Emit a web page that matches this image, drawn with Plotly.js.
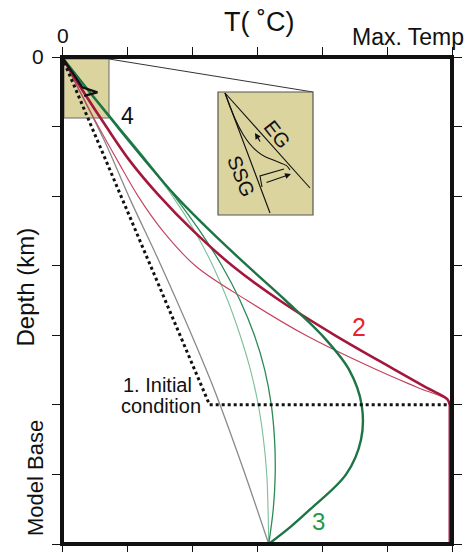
<!DOCTYPE html>
<html>
<head>
<meta charset="utf-8">
<script src="https://cdn.plot.ly/plotly-3.0.1.min.js"></script>
<style>html,body{margin:0;padding:0;background:#fff;}#chart{width:466px;height:552px;}</style>
</head>
<body>
<div id="chart"></div>
<script>
// ---- data: temperature (0..6 = Max. Temp) vs depth (0..7 = Model Base)
const tickT = [0, 1, 2, 3, 4, 5, 6];
const tickD = [0, 1, 2, 3, 4, 5, 6, 7];

const initT = [0, 2.27, 6];
const initD = [0, 5, 5];

const grayT = [0, 0.64, 1.05, 1.5, 1.95, 2.35, 2.78, 3.18];
const grayD = [0, 1.18, 2.05, 2.95, 3.9, 4.8, 5.9, 7];

const thinRedT = [0, 0.28, 0.56, 0.86, 1.17, 1.55, 2.05, 2.85, 3.75, 4.85, 5.47, 5.93, 5.965];
const thinRedD = [0, 0.5, 1.0, 1.5, 2.0, 2.5, 3.0, 3.5, 4.0, 4.5, 4.75, 4.93, 5.0];

const thickRedT = [0, 0.33, 0.68, 1.05, 1.5, 2.02, 2.62, 3.35, 4.2, 5.13, 5.6, 5.93, 5.965];
const thickRedD = [0, 0.5, 1.0, 1.5, 2.0, 2.5, 3.0, 3.5, 4.0, 4.5, 4.75, 4.92, 5.0];

const redBaseT = [5.965, 5.965];
const redBaseD = [5.0, 7.0];

const thickGreenT = [0, 0.42, 0.85, 1.29, 1.75, 2.28, 2.85, 3.44, 4.0, 4.42, 4.61, 4.6, 4.37, 3.82, 3.52, 3.18];
const thickGreenD = [0, 0.5, 1.0, 1.5, 2.0, 2.5, 3.0, 3.5, 4.0, 4.5, 5.0, 5.5, 6.0, 6.5, 6.75, 7.0];

const lightGreenT = [0, 0.43, 0.87, 1.3, 1.7, 2.04, 2.32, 2.55, 2.74, 2.9, 3.02, 3.1, 3.15, 3.17, 3.18];
const lightGreenD = [0, 0.5, 1.0, 1.5, 2.0, 2.5, 3.0, 3.5, 4.0, 4.5, 5.0, 5.5, 6.0, 6.5, 7.0];

const medGreenT = [0, 0.43, 0.87, 1.31, 1.73, 2.12, 2.46, 2.74, 2.96, 3.12, 3.22, 3.27, 3.28, 3.25, 3.18];
const medGreenD = [0, 0.5, 1.0, 1.5, 2.0, 2.5, 3.0, 3.5, 4.0, 4.5, 5.0, 5.5, 6.0, 6.5, 7.0];

const fourT = [0, 0.313, 0.545, 0.34];
const fourD = [0, 0.437, 0.509, 0.558];

// ---- layout geometry
const W = 466, H = 552;
const M = {l: 62, r: 14, t: 57, b: 8};
const PW = W - M.l - M.r, PH = H - M.t - M.b;
const pxT = PW / 6, pxD = PH / 7;
const X = px => (px - M.l) / pxT;      // pixel -> data (T)
const Y = py => (py - M.t) / pxD;      // pixel -> data (depth)
const PX = px => (px - M.l) / PW;      // pixel -> paper x
const PY = py => 1 - (py - M.t) / PH;  // pixel -> paper y

const FONT = 'Liberation Sans, Arial, Helvetica, sans-serif';
const TAN = '#dbd49f';

function tr(x, y, color, width, dash, shape) {
  return {x: x, y: y, type: 'scatter', mode: 'lines', hoverinfo: 'skip',
    line: {color: color, width: width, dash: dash || 'solid', shape: shape || 'spline', smoothing: 1}};
}

const traces = [
  tr(grayT, grayD, '#8a8a8a', 1.3),
  tr(lightGreenT, lightGreenD, '#7dbf98', 1.1),
  tr(medGreenT, medGreenD, '#2b8a55', 1.3),
  tr(thinRedT, thinRedD, '#c4405e', 1.1),
  tr(thickRedT, thickRedD, '#a4173c', 2.6),
  tr(redBaseT, redBaseD, '#a4173c', 2.4, 'solid', 'linear'),
  tr(thickGreenT, thickGreenD, '#1d7445', 2.4),
  tr(initT, initD, '#111111', 3, 'dot', 'linear'),
  tr(fourT, fourD, '#111111', 2.2, 'solid', 'linear')
];

function ann(text, px, py, size, color, angle) {
  return {text: text, x: PX(px), y: PY(py), xref: 'paper', yref: 'paper', showarrow: false,
    xanchor: 'center', yanchor: 'middle', textangle: angle || 0,
    font: {family: FONT, size: size, color: color || '#111'}};
}
function arrow(hx, hy, tx, ty) {
  return {x: X(hx), y: Y(hy), ax: X(tx), ay: Y(ty), xref: 'x', yref: 'y', axref: 'x', ayref: 'y',
    text: '', showarrow: true, arrowhead: 2, arrowsize: 1, arrowwidth: 1.2, arrowcolor: '#111'};
}

const annotations = [
  ann('T( ˚C)', 259, 22, 27),
  ann('0', 62.5, 35.5, 21),
  ann('Max. Temp', 407.5, 37.5, 23),
  ann('0', 37.5, 56.5, 21),
  ann('Depth (km)', 25, 287.5, 24, '#111', -90),
  ann('Model Base', 35.5, 478.5, 22, '#111', -90),
  ann('4', 127.5, 116.5, 23),
  ann('2', 359, 327, 25, '#e4262c'),
  ann('3', 318, 521.5, 24, '#1f9a4a'),
  ann('1. Initial', 157.5, 385, 20),
  ann('condition', 161, 406, 20),
  ann('EG', 277, 134, 20, '#111', 52),
  ann('SSG', 241, 176, 20, '#111', 68),
  arrow(291, 174, 265, 183),
  arrow(255, 133, 261, 143)
];

function line(x0, y0, x1, y1, w, c) {
  return {type: 'line', xref: 'x', yref: 'y', x0: X(x0), y0: Y(y0), x1: X(x1), y1: Y(y1),
    line: {color: c || '#111', width: w || 1}, layer: 'above'};
}
function pathPx(pts, w) {
  let d = 'M' + pts.map(p => X(p[0]) + ',' + Y(p[1])).join(' L');
  return {type: 'path', xref: 'x', yref: 'y', path: d, line: {color: '#111', width: w || 1}, layer: 'above'};
}

const shapes = [
  {type: 'rect', xref: 'x', yref: 'y', x0: X(64), y0: Y(59), x1: X(109), y1: Y(118),
   fillcolor: TAN, line: {color: '#6b6b6b', width: 1}, layer: 'below'},
  line(109, 59, 313, 92, 1, '#333'),
  {type: 'rect', xref: 'x', yref: 'y', x0: X(218), y0: Y(92), x1: X(313), y1: Y(215),
   fillcolor: TAN, line: {color: '#555', width: 1.2}, layer: 'above'},
  line(225, 93, 270, 213, 1.1),
  line(225, 93, 310, 188, 1.1),
  {type: 'path', xref: 'x', yref: 'y', layer: 'above', line: {color: '#111', width: 1.1},
   path: 'M' + X(225) + ',' + Y(93) + ' C' + X(236) + ',' + Y(125) + ' ' + X(248) + ',' + Y(150) + ' ' + X(268) + ',' + Y(158) +
         ' S' + X(286) + ',' + Y(164) + ' ' + X(290) + ',' + Y(170)},
  pathPx([[262, 187], [260, 176], [284, 169]], 1.1),
  {type: 'rect', xref: 'paper', yref: 'paper', x0: 0, y0: 0, x1: 1, y1: 1,
   line: {color: '#111', width: 4}, layer: 'above'}
];

const axisCommon = {
  showgrid: false, zeroline: false, showline: false, showticklabels: false,
  ticks: 'outside', ticklen: 9, tickwidth: 1, tickcolor: '#111', mirror: 'allticks'
};

const layout = {
  width: W, height: H,
  margin: M,
  paper_bgcolor: '#fff', plot_bgcolor: '#fff',
  showlegend: false,
  xaxis: Object.assign({}, axisCommon, {range: [0, 6], side: 'top', tickmode: 'array', tickvals: tickT}),
  yaxis: Object.assign({}, axisCommon, {range: [7, 0], tickmode: 'array', tickvals: tickD}),
  annotations: annotations,
  shapes: shapes,
  font: {family: FONT}
};

Plotly.newPlot('chart', traces, layout, {staticPlot: true, displayModeBar: false});
</script>
</body>
</html>
